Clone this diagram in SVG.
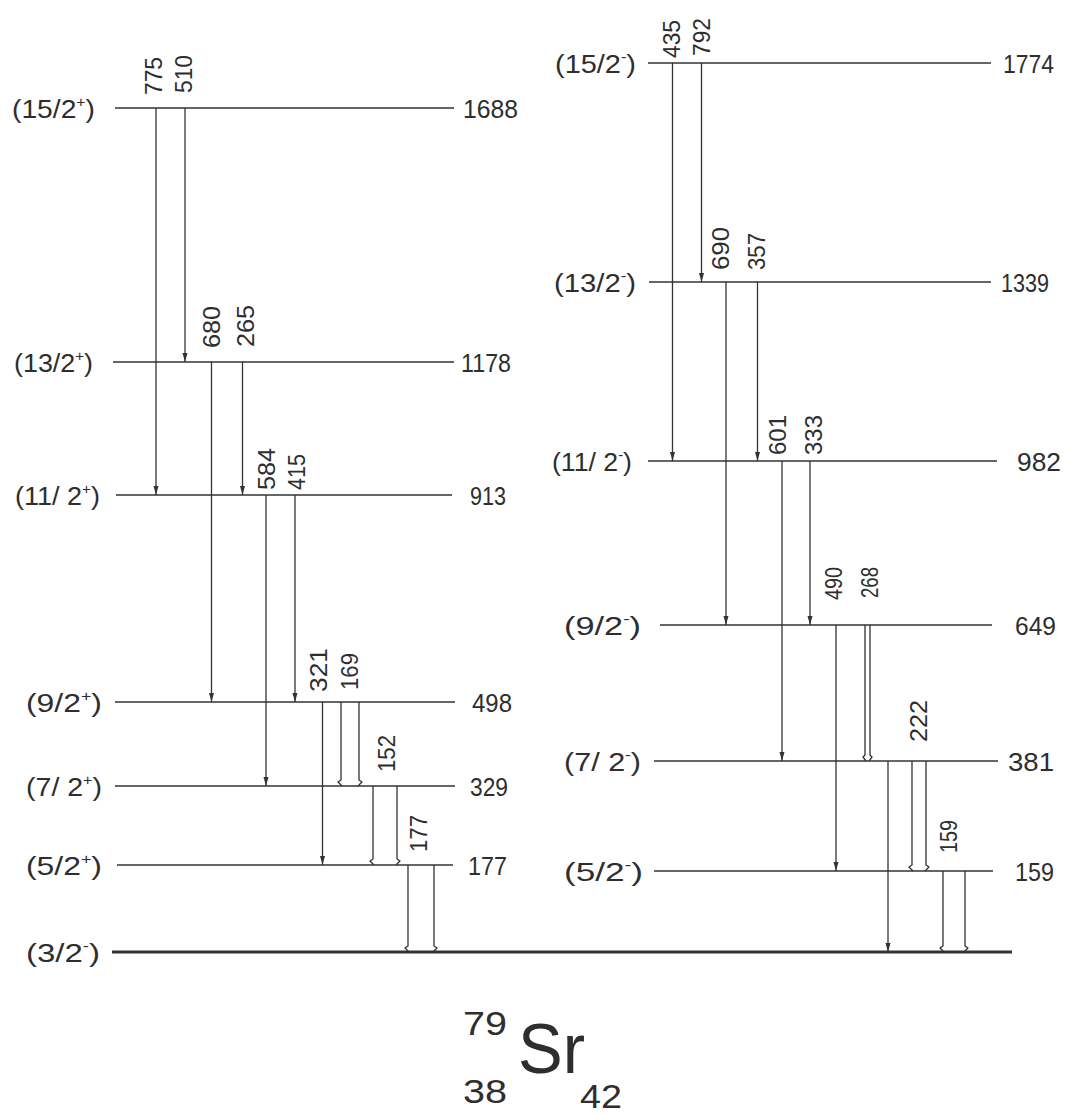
<svg xmlns="http://www.w3.org/2000/svg" width="1076" height="1117" viewBox="0 0 1076 1117">
<defs>
<style>
.lv{stroke:#333;stroke-width:1.5;fill:none}
.gd{stroke:#333;stroke-width:3;fill:none}
.tr{stroke:#333;stroke-width:1.3;fill:none}
.op{stroke:#333;stroke-width:1.3;fill:none;stroke-linejoin:round}
text{font-family:"Liberation Sans",Arial,sans-serif;fill:#2e2e2e}
.sp{font-size:25px}
.en{font-size:25px}
.g{font-size:24px}
.sup{font-size:14px}
</style>
<marker id="ah" markerUnits="userSpaceOnUse" markerWidth="10" markerHeight="6" refX="9" refY="2.5" orient="auto">
<path d="M0,0 L9,2.5 L0,5 Z" fill="#333"/>
</marker>
</defs>
<rect width="1076" height="1117" fill="#ffffff"/>

<!-- Left band levels -->
<g id="L15p"><line class="lv" x1="115" y1="108" x2="454" y2="108"/><text class="sp" x="12" y="118" textLength="83" lengthAdjust="spacingAndGlyphs">(15/2<tspan class="sup" dy="-11">+</tspan><tspan dy="11">)</tspan></text><text class="en" x="463" y="118" textLength="55" lengthAdjust="spacingAndGlyphs">1688</text></g>
<g id="L13p"><line class="lv" x1="113" y1="362" x2="454" y2="362"/><text class="sp" x="14" y="372" textLength="79" lengthAdjust="spacingAndGlyphs">(13/2<tspan class="sup" dy="-11">+</tspan><tspan dy="11">)</tspan></text><text class="en" x="461" y="372" textLength="50" lengthAdjust="spacingAndGlyphs">1178</text></g>
<g id="L11p"><line class="lv" x1="116" y1="495" x2="452" y2="495"/><text class="sp" x="15" y="505" textLength="85" lengthAdjust="spacingAndGlyphs">(11/ 2<tspan class="sup" dy="-11">+</tspan><tspan dy="11">)</tspan></text><text class="en" x="470" y="505" textLength="36" lengthAdjust="spacingAndGlyphs">913</text></g>
<g id="L9p"><line class="lv" x1="115" y1="702" x2="455" y2="702"/><text class="sp" x="26" y="712" textLength="76" lengthAdjust="spacingAndGlyphs">(9/2<tspan class="sup" dy="-11">+</tspan><tspan dy="11">)</tspan></text><text class="en" x="472" y="712" textLength="40" lengthAdjust="spacingAndGlyphs">498</text></g>
<g id="L7p"><line class="lv" x1="115" y1="786" x2="455" y2="786"/><text class="sp" x="26" y="796" textLength="76" lengthAdjust="spacingAndGlyphs">(7/ 2<tspan class="sup" dy="-11">+</tspan><tspan dy="11">)</tspan></text><text class="en" x="470" y="796" textLength="38" lengthAdjust="spacingAndGlyphs">329</text></g>
<g id="L5p"><line class="lv" x1="117" y1="865" x2="453" y2="865"/><text class="sp" x="26" y="875" textLength="76" lengthAdjust="spacingAndGlyphs">(5/2<tspan class="sup" dy="-11">+</tspan><tspan dy="11">)</tspan></text><text class="en" x="468" y="875" textLength="39" lengthAdjust="spacingAndGlyphs">177</text></g>
<g id="G3m"><line class="gd" x1="112" y1="952" x2="1012" y2="952"/><text class="sp" x="26" y="962" textLength="74" lengthAdjust="spacingAndGlyphs">(3/2<tspan class="sup" dy="-11">-</tspan><tspan dy="11">)</tspan></text></g>

<!-- Right band levels -->
<g id="R15m"><line class="lv" x1="648" y1="63" x2="991" y2="63"/><text class="sp" x="555" y="73" textLength="81" lengthAdjust="spacingAndGlyphs">(15/2<tspan class="sup" dy="-11">-</tspan><tspan dy="11">)</tspan></text><text class="en" x="1003" y="73" textLength="51" lengthAdjust="spacingAndGlyphs">1774</text></g>
<g id="R13m"><line class="lv" x1="649" y1="282" x2="991" y2="282"/><text class="sp" x="554" y="292" textLength="82" lengthAdjust="spacingAndGlyphs">(13/2<tspan class="sup" dy="-11">-</tspan><tspan dy="11">)</tspan></text><text class="en" x="1001" y="292" textLength="48" lengthAdjust="spacingAndGlyphs">1339</text></g>
<g id="R11m"><line class="lv" x1="648" y1="461" x2="997" y2="461"/><text class="sp" x="552" y="471" textLength="80" lengthAdjust="spacingAndGlyphs">(11/ 2<tspan class="sup" dy="-11">-</tspan><tspan dy="11">)</tspan></text><text class="en" x="1017" y="471" textLength="44" lengthAdjust="spacingAndGlyphs">982</text></g>
<g id="R9m"><line class="lv" x1="660" y1="625" x2="992" y2="625"/><text class="sp" x="564" y="635" textLength="77" lengthAdjust="spacingAndGlyphs">(9/2<tspan class="sup" dy="-11">-</tspan><tspan dy="11">)</tspan></text><text class="en" x="1015" y="635" textLength="41" lengthAdjust="spacingAndGlyphs">649</text></g>
<g id="R7m"><line class="lv" x1="654" y1="761" x2="998" y2="761"/><text class="sp" x="564" y="771" textLength="77" lengthAdjust="spacingAndGlyphs">(7/ 2<tspan class="sup" dy="-11">-</tspan><tspan dy="11">)</tspan></text><text class="en" x="1008" y="771" textLength="46" lengthAdjust="spacingAndGlyphs">381</text></g>
<g id="R5m"><line class="lv" x1="654" y1="871" x2="993" y2="871"/><text class="sp" x="564" y="881" textLength="79" lengthAdjust="spacingAndGlyphs">(5/2<tspan class="sup" dy="-11">-</tspan><tspan dy="11">)</tspan></text><text class="en" x="1015" y="881" textLength="39" lengthAdjust="spacingAndGlyphs">159</text></g>

<!-- Transitions -->
<g id="connectors">
<line class="tr" x1="156" y1="108" x2="156" y2="495" marker-end="url(#ah)"/>
<line class="tr" x1="185" y1="108" x2="185" y2="362" marker-end="url(#ah)"/>
<line class="tr" x1="211.5" y1="362" x2="211.5" y2="702" marker-end="url(#ah)"/>
<line class="tr" x1="242.5" y1="362" x2="242.5" y2="495" marker-end="url(#ah)"/>
<line class="tr" x1="266" y1="495" x2="266" y2="786" marker-end="url(#ah)"/>
<line class="tr" x1="295" y1="495" x2="295" y2="702" marker-end="url(#ah)"/>
<line class="tr" x1="322.5" y1="702" x2="322.5" y2="865" marker-end="url(#ah)"/>
<path class="op" d="M341,702 V780 L338,782 L342,786 M359,702 V780 L362,782 L358,786"/>
<path class="op" d="M373,786 V859 L370,861 L374,865 M397,786 V859 L400,861 L396,865"/>
<path class="op" d="M408,865 V946 L405,948 L409,952 M434,865 V946 L437,948 L433,952"/>

<line class="tr" x1="672.5" y1="63" x2="672.5" y2="461" marker-end="url(#ah)"/>
<line class="tr" x1="701.5" y1="63" x2="701.5" y2="282" marker-end="url(#ah)"/>
<line class="tr" x1="726" y1="282" x2="726" y2="625" marker-end="url(#ah)"/>
<line class="tr" x1="757.5" y1="282" x2="757.5" y2="461" marker-end="url(#ah)"/>
<line class="tr" x1="782" y1="461" x2="782" y2="761" marker-end="url(#ah)"/>
<line class="tr" x1="810" y1="461" x2="810" y2="625" marker-end="url(#ah)"/>
<line class="tr" x1="836" y1="625" x2="836" y2="871" marker-end="url(#ah)"/>
<path class="op" d="M865,625 V755 L863,757 L866,761 M870,625 V755 L872,757 L869,761"/>
<line class="tr" x1="888" y1="761" x2="888" y2="952" marker-end="url(#ah)"/>
<path class="op" d="M912,761 V865 L909,867 L913,871 M926,761 V865 L929,867 L925,871"/>
<path class="op" d="M943,871 V946 L940,948 L944,952 M965,871 V946 L968,948 L964,952"/>
</g>

<!-- Gamma labels -->
<g id="gamma-labels" class="g">
<text transform="translate(162,95) rotate(-90)" textLength="38" lengthAdjust="spacingAndGlyphs">775</text>
<text transform="translate(192,93) rotate(-90)" textLength="38" lengthAdjust="spacingAndGlyphs">510</text>
<text transform="translate(220,348) rotate(-90)" textLength="42" lengthAdjust="spacingAndGlyphs">680</text>
<text transform="translate(254,347) rotate(-90)" textLength="42" lengthAdjust="spacingAndGlyphs">265</text>
<text transform="translate(275,490) rotate(-90)" textLength="42" lengthAdjust="spacingAndGlyphs">584</text>
<text transform="translate(305,490) rotate(-90)" textLength="36" lengthAdjust="spacingAndGlyphs">415</text>
<text transform="translate(327,692) rotate(-90)" textLength="44" lengthAdjust="spacingAndGlyphs">321</text>
<text transform="translate(358,690) rotate(-90)" textLength="37" lengthAdjust="spacingAndGlyphs">169</text>
<text transform="translate(395,772) rotate(-90)" textLength="37" lengthAdjust="spacingAndGlyphs">152</text>
<text transform="translate(427,852) rotate(-90)" textLength="37" lengthAdjust="spacingAndGlyphs">177</text>
<text transform="translate(680,58) rotate(-90)" textLength="38" lengthAdjust="spacingAndGlyphs">435</text>
<text transform="translate(710,56) rotate(-90)" textLength="38" lengthAdjust="spacingAndGlyphs">792</text>
<text transform="translate(729,270) rotate(-90)" textLength="43" lengthAdjust="spacingAndGlyphs">690</text>
<text transform="translate(765,270) rotate(-90)" textLength="37" lengthAdjust="spacingAndGlyphs">357</text>
<text transform="translate(786,455) rotate(-90)" textLength="40" lengthAdjust="spacingAndGlyphs">601</text>
<text transform="translate(822,455) rotate(-90)" textLength="40" lengthAdjust="spacingAndGlyphs">333</text>
<text transform="translate(842,600) rotate(-90)" textLength="33" lengthAdjust="spacingAndGlyphs">490</text>
<text transform="translate(878,598) rotate(-90)" textLength="31" lengthAdjust="spacingAndGlyphs">268</text>
<text transform="translate(927,742) rotate(-90)" textLength="42" lengthAdjust="spacingAndGlyphs">222</text>
<text transform="translate(957,853) rotate(-90)" textLength="33" lengthAdjust="spacingAndGlyphs">159</text>
</g>

<!-- Nuclide title -->
<g id="title">
<text x="463" y="1035" font-size="34" textLength="44" lengthAdjust="spacingAndGlyphs">79</text>
<text x="518" y="1073" font-size="70" textLength="67" lengthAdjust="spacingAndGlyphs">Sr</text>
<text x="463" y="1103" font-size="34" textLength="44" lengthAdjust="spacingAndGlyphs">38</text>
<text x="580" y="1108" font-size="34" textLength="42" lengthAdjust="spacingAndGlyphs">42</text>
</g>
</svg>
